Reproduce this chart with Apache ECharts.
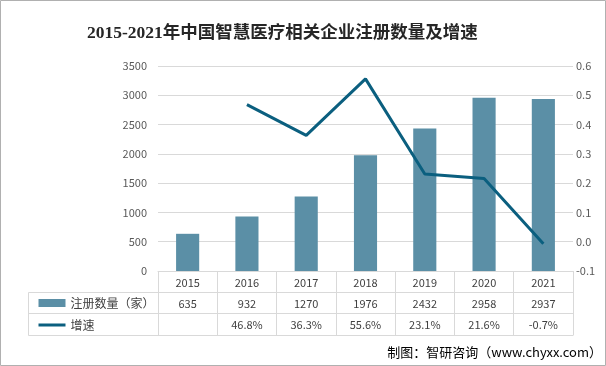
<!DOCTYPE html>
<html><head><meta charset="utf-8">
<script src="https://cdn.jsdelivr.net/npm/echarts@6/dist/echarts.min.js"></script>
<style>html,body{margin:0;padding:0;background:#fff}#c{width:606px;height:366px}</style>
</head><body><div id="c"></div>
<script>
const years = ['2015','2016','2017','2018','2019','2020','2021'];
const counts = [635, 932, 1270, 1976, 2432, 2958, 2937];
const growthPct = [null, 46.8, 36.3, 55.6, 23.1, 21.6, -0.7];
const leftTicks = {min: 0, max: 3500, interval: 500};
const rightTicks = {min: -0.1, max: 0.6, interval: 0.1};

const F = "'Noto Sans CJK SC','Noto Sans',sans-serif";
const chart = echarts.init(document.getElementById('c'), null, {renderer: 'canvas'});
const lineGray = '#d9d9d9';
const tableLines = [
  [28, 292, 573, 292], [28, 313, 573, 313], [28, 335, 573, 335],
  [28, 292, 28, 335]
].map(p => ({type: 'line', shape: {x1: p[0] + 0.5, y1: p[1] + 0.5, x2: p[2] + 0.5, y2: p[3] + 0.5}, style: {stroke: lineGray, lineWidth: 1}, silent: true}));

chart.setOption({
  animation: false,
  backgroundColor: '#fff',
  title: {
    text: '2015-2021年中国智慧医疗相关企业注册数量及增速',
    left: 82, top: 20,
    textStyle: {fontFamily: "'Liberation Serif','Noto Sans CJK SC',serif", fontSize: 17.5, fontWeight: 'bold', color: '#262626'}
  },
  grid: {left: 158, right: 33, top: 66, bottom: 95, containLabel: false},
  legend: {
    orient: 'vertical', left: 32, top: 292, itemGap: 10, itemWidth: 27, itemHeight: 8,
    textStyle: {fontFamily: F, fontSize: 12, color: '#404040'},
    data: [{name: '注册数量（家）', icon: 'rect'}, {name: '增速', itemStyle: {opacity: 0}, lineStyle: {width: 3}}]
  },
  xAxis: {
    type: 'category', data: years,
    axisLine: {lineStyle: {color: lineGray}},
    axisTick: {show: true, length: 64, lineStyle: {color: lineGray}},
    axisLabel: {
      margin: 1, interval: 0,
      formatter: (v, i) => '{y|' + v + '}\n{v|' + counts[i] + '}\n{p|' + (growthPct[i] == null ? ' ' : growthPct[i].toFixed(1) + '%') + '}',
      rich: {
        y: {fontFamily: F, fontSize: 11, color: '#404040', lineHeight: 21},
        v: {fontFamily: F, fontSize: 11, color: '#404040', lineHeight: 21},
        p: {fontFamily: F, fontSize: 11, color: '#404040', lineHeight: 22}
      }
    }
  },
  yAxis: [
    {type: 'value', min: leftTicks.min, max: leftTicks.max, interval: leftTicks.interval,
     axisLine: {show: false}, axisTick: {show: false},
     axisLabel: {margin: 11, fontFamily: F, fontSize: 11, color: '#595959', formatter: v => String(v)},
     splitLine: {lineStyle: {color: lineGray}}},
    {type: 'value', min: rightTicks.min, max: rightTicks.max, interval: rightTicks.interval,
     axisLine: {show: false}, axisTick: {show: false},
     axisLabel: {margin: 3, fontFamily: F, fontSize: 11, color: '#595959', formatter: v => (Math.round(v * 10) / 10).toFixed(1)},
     splitLine: {show: false}}
  ],
  series: [
    {name: '注册数量（家）', type: 'bar', data: counts, barWidth: '39%', itemStyle: {color: '#5b8fa6'}},
    {name: '增速', type: 'line', yAxisIndex: 1, data: growthPct.map(g => g == null ? '-' : g / 100),
     symbol: 'none', lineStyle: {width: 3, color: '#0b5f7f'}, itemStyle: {color: '#0b5f7f'}}
  ],
  graphic: tableLines.concat([
    {type: 'rect', shape: {x: 0.5, y: 0.5, width: 605, height: 365}, style: {fill: 'none', stroke: '#b0b0b0', lineWidth: 1}, silent: true},
    {type: 'text', right: 4, top: 346, style: {text: '制图：智研咨询（www.chyxx.com）', font: "13px 'Noto Sans CJK SC', sans-serif", fill: '#000'}}
  ])
});
</script></body></html>
